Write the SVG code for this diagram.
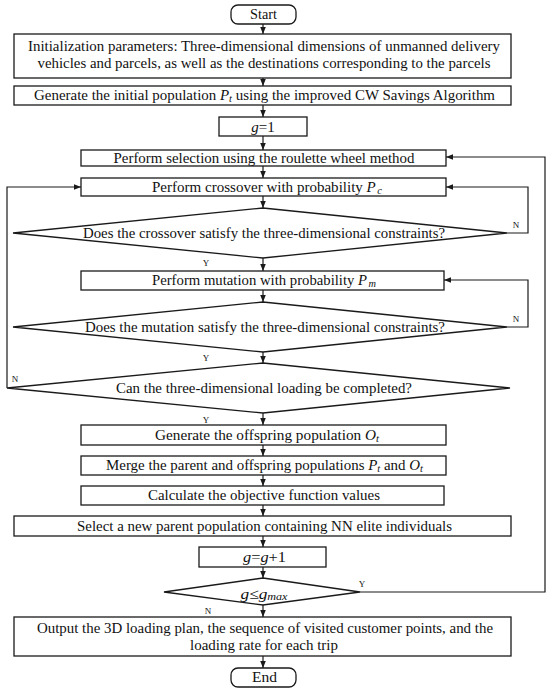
<svg xmlns="http://www.w3.org/2000/svg" width="550" height="692" viewBox="0 0 550 692">
<style>
.b{fill:#fff;stroke:#1a1a1a;stroke-width:1.3}
.t{font-family:"Liberation Serif","Times New Roman",serif;font-size:15px;fill:#111;text-anchor:middle}
.l{font-family:"Liberation Serif","Times New Roman",serif;font-size:9px;fill:#111;text-anchor:middle}
.c{fill:none;stroke:#1a1a1a;stroke-width:1.2;marker-end:url(#a)}
.i{font-style:italic}
.s{font-style:italic;font-size:10.5px}
</style>
<defs>
<marker id="a" viewBox="0 0 10 10" refX="10" refY="5" markerWidth="7" markerHeight="7" markerUnits="userSpaceOnUse" orient="auto">
<path d="M0,1 L10,5 L0,9 Z" fill="#1a1a1a"/>
</marker>
</defs>
<rect width="550" height="692" fill="#fff"/>
<g id="connectors">
<line class="c" x1="263" y1="24" x2="263" y2="34"/>
<line class="c" x1="263" y1="78" x2="263" y2="86"/>
<line class="c" x1="263" y1="105" x2="263" y2="117"/>
<line class="c" x1="263" y1="136" x2="263" y2="150"/>
<line class="c" x1="263" y1="166" x2="263" y2="178"/>
<line class="c" x1="263" y1="196" x2="263" y2="208"/>
<line class="c" x1="263" y1="258" x2="263" y2="271"/>
<line class="c" x1="263" y1="290" x2="263" y2="302"/>
<line class="c" x1="263" y1="352" x2="263" y2="363"/>
<line class="c" x1="263" y1="413" x2="263" y2="425"/>
<line class="c" x1="263" y1="445" x2="263" y2="456"/>
<line class="c" x1="263" y1="475" x2="263" y2="486"/>
<line class="c" x1="263" y1="505" x2="263" y2="516"/>
<line class="c" x1="263" y1="536" x2="263" y2="547"/>
<line class="c" x1="263" y1="567" x2="263" y2="578"/>
<line class="c" x1="263" y1="605" x2="263" y2="617"/>
<line class="c" x1="263" y1="656" x2="263" y2="668"/>
<polyline class="c" points="507,233 528,233 528,187 446,187"/>
<polyline class="c" points="507,327 528,327 528,280 444,280"/>
<polyline class="c" points="7,388 7,187 81,187"/>
<polyline class="c" points="360,592 545,592 545,157 446,157"/>
<text class="l" x="516" y="228">N</text>
<text class="l" x="516" y="322">N</text>
<text class="l" x="206" y="266">Y</text>
<text class="l" x="206" y="361">Y</text>
<text class="l" x="15" y="382">N</text>
<text class="l" x="206" y="423">Y</text>
<text class="l" x="362" y="587">Y</text>
<text class="l" x="208" y="614">N</text>
</g>
<g id="start">
<rect class="b" x="231" y="5" width="65" height="19" rx="7"/>
<text class="t" x="263.5" y="19" textLength="27" lengthAdjust="spacingAndGlyphs">Start</text>
</g>
<g id="init">
<rect class="b" x="14" y="34" width="497" height="44"/>
<text class="t" x="264" y="51" textLength="472" lengthAdjust="spacingAndGlyphs">Initialization parameters: Three-dimensional dimensions of unmanned delivery</text>
<text class="t" x="264" y="68" textLength="453" lengthAdjust="spacingAndGlyphs">vehicles and parcels, as well as the destinations corresponding to the parcels</text>
</g>
<g id="generate">
<rect class="b" x="14" y="86" width="497" height="19"/>
<text class="t" x="264.5" y="100" textLength="461" lengthAdjust="spacingAndGlyphs">Generate the initial population <tspan class="i">P</tspan><tspan class="s" dy="2">t</tspan><tspan dy="-2"> using the improved CW Savings Algorithm</tspan></text>
</g>
<g id="g1">
<rect class="b" x="219" y="117" width="88" height="19"/>
<text class="t" x="263" y="132"><tspan class="i">g</tspan>=1</text>
</g>
<g id="selection">
<rect class="b" x="81" y="150" width="365" height="16"/>
<text class="t" x="264" y="163" textLength="301" lengthAdjust="spacingAndGlyphs">Perform selection using the roulette wheel method</text>
</g>
<g id="crossover">
<rect class="b" x="81" y="178" width="365" height="18"/>
<text class="t" x="267" y="192" textLength="230" lengthAdjust="spacingAndGlyphs">Perform crossover with probability <tspan class="i">P</tspan><tspan class="s" dx="1.5" dy="2">c</tspan></text>
</g>
<g id="crossover-check">
<polygon class="b" points="263,208 507,233 263,258 13,233"/>
<text class="t" x="264" y="238" textLength="362" lengthAdjust="spacingAndGlyphs">Does the crossover satisfy the three-dimensional constraints?</text>
</g>
<g id="mutation">
<rect class="b" x="81" y="271" width="363" height="19"/>
<text class="t" x="264" y="285" textLength="224" lengthAdjust="spacingAndGlyphs">Perform mutation with probability <tspan class="i">P</tspan><tspan class="s" dx="1.5" dy="2">m</tspan></text>
</g>
<g id="mutation-check">
<polygon class="b" points="263,302 507,327 263,352 13,327"/>
<text class="t" x="265" y="332" textLength="360" lengthAdjust="spacingAndGlyphs">Does the mutation satisfy the three-dimensional constraints?</text>
</g>
<g id="loading-check">
<polygon class="b" points="263,363 510,388 263,413 7,388"/>
<text class="t" x="264" y="393" textLength="296" lengthAdjust="spacingAndGlyphs">Can the three-dimensional loading be completed?</text>
</g>
<g id="offspring">
<rect class="b" x="81" y="425" width="365" height="20"/>
<text class="t" x="267" y="440" textLength="224" lengthAdjust="spacingAndGlyphs">Generate the offspring population <tspan class="i">O</tspan><tspan class="s" dy="2">t</tspan></text>
</g>
<g id="merge">
<rect class="b" x="81" y="456" width="365" height="19"/>
<text class="t" x="264.5" y="470" textLength="317" lengthAdjust="spacingAndGlyphs">Merge the parent and offspring populations <tspan class="i">P</tspan><tspan class="s" dy="2">t</tspan><tspan dy="-2"> and </tspan><tspan class="i">O</tspan><tspan class="s" dy="2">t</tspan></text>
</g>
<g id="calc">
<rect class="b" x="81" y="486" width="363" height="19"/>
<text class="t" x="264" y="500" textLength="232" lengthAdjust="spacingAndGlyphs">Calculate the objective function values</text>
</g>
<g id="select-elite">
<rect class="b" x="14" y="516" width="497" height="20"/>
<text class="t" x="264.5" y="531" textLength="375" lengthAdjust="spacingAndGlyphs">Select a new parent population containing NN elite individuals</text>
</g>
<g id="increment">
<rect class="b" x="199" y="547" width="127" height="20"/>
<text class="t" x="264.5" y="562" textLength="43" lengthAdjust="spacingAndGlyphs"><tspan class="i">g</tspan>=<tspan class="i">g</tspan>+1</text>
</g>
<g id="gmax-check">
<polygon class="b" points="263,578 360,592 263,605 164,592"/>
<text class="t" x="264" y="599" textLength="47" lengthAdjust="spacingAndGlyphs"><tspan class="i">g</tspan>≤<tspan class="i">g</tspan><tspan class="s" dy="1">max</tspan></text>
</g>
<g id="output">
<rect class="b" x="14" y="617" width="497" height="39"/>
<text class="t" x="265" y="633" textLength="456" lengthAdjust="spacingAndGlyphs">Output the 3D loading plan, the sequence of visited customer points, and the</text>
<text class="t" x="264" y="650" textLength="148" lengthAdjust="spacingAndGlyphs">loading rate for each trip</text>
</g>
<g id="end">
<rect class="b" x="231" y="668" width="65" height="19" rx="7"/>
<text class="t" x="264.5" y="682" textLength="25" lengthAdjust="spacingAndGlyphs">End</text>
</g>
</svg>
